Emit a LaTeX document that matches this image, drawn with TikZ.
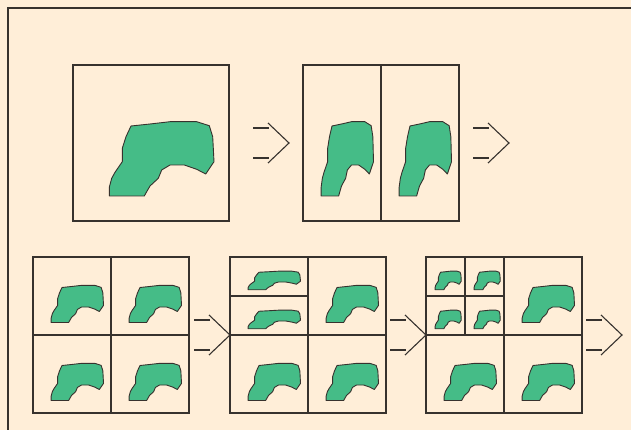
\documentclass[tikz,border=0pt]{standalone}
\usepackage{tikz}

\definecolor{paper}{RGB}{255,238,216}
\definecolor{leaf}{RGB}{69,188,135}
\definecolor{ink}{RGB}{55,50,46}

% one region, placed at a corner, moved and squeezed
\newcommand{\blobat}[5]{%
  \begin{scope}[shift={(#1)}, shift={(#2,#3)}, xscale=#4, yscale=#5]
    \filldraw[blob] (36.3,131) -- (36.3,122.3) -- (38.7,113.3) -- (42,107.3)
      -- (49.3,96.7) -- (49.3,83.3) -- (53,71.7) -- (58,61) -- (77,59)
      -- (97,56.7) -- (123.7,56.7) -- (136.3,60.7) -- (139.7,71.7)
      -- (141,96.7) -- (132.7,109) -- (123.7,104.3) -- (111.3,100)
      -- (97,100) -- (88.7,105) -- (85.3,113.3) -- (77,121) -- (73.7,126.7)
      -- (71.3,131) -- cycle;
  \end{scope}}

\begin{document}
\begin{tikzpicture}[x=1pt, y=-1pt, ink, line width=1.1pt,
        panel/.style = {draw, rectangle,
        minimum size = 156pt,
        inner sep=0pt, outer sep=0pt,
        anchor=north west},
        divider/.style = {line width=1.5pt},
        blob/.style = {fill=leaf, draw=ink, line width=0.9pt, line join=round},
        dblarrow/.pic = {
          \draw (-36,-15) -- (-20,-15) (-36,15) -- (-20,15);
          \draw (-21,-20) -- (0,0) -- (-21,20);}]

        % Paper and frame
        \fill[paper] (0,0) rectangle (631,430);
        \useasboundingbox (0,0) rectangle (631,430);
        \draw (8,430) -- (8,8) -- (631,8);

        % Whole region
        \node [panel] (whole) at (73,65) {};
        \blobat{whole.north west}{0}{0}{1}{1}

        % Split in two halves
        \node [panel] (halves) at (303,65) {};
        \draw (halves.north) -- (halves.south);
        \blobat{halves.north west}{0}{0}{0.5}{1}
        \blobat{halves.north}{0}{0}{0.5}{1}

        % Top arrows
        \pic at ([xshift=-14pt]halves.west) {dblarrow};
        \pic at ([xshift=50pt]halves.east) {dblarrow};

        % Four quarters
        \node [panel] (quads) at (33,257) {};
        \foreach \dx in {0,78}
          \foreach \dy in {0,78}
            {\blobat{quads.north west}{\dx}{\dy}{0.5}{0.5}}

        % One quarter split again in two
        \node [panel] (split) at (230,257) {};
        \draw[divider] ([yshift=-39pt]split.north west) -- ([yshift=-39pt]split.north);
        \blobat{split.north west}{0}{0}{0.5}{0.25}
        \blobat{split.north west}{0}{39}{0.5}{0.25}
        \blobat{split.north west}{78}{0}{0.5}{0.5}
        \blobat{split.north west}{0}{78}{0.5}{0.5}
        \blobat{split.north west}{78}{78}{0.5}{0.5}

        % One quarter split again in four
        \node [panel] (nested) at (426,257) {};
        \draw[divider] ([xshift=39pt]nested.north west) -- ([xshift=39pt,yshift=-78pt]nested.north west);
        \draw[divider] ([yshift=-39pt]nested.north west) -- ([xshift=78pt,yshift=-39pt]nested.north west);
        \foreach \dx in {0,39}
          \foreach \dy in {0,39}
            {\blobat{nested.north west}{\dx}{\dy}{0.25}{0.25}}
        \blobat{nested.north west}{78}{0}{0.5}{0.5}
        \blobat{nested.north west}{0}{78}{0.5}{0.5}
        \blobat{nested.north west}{78}{78}{0.5}{0.5}

        % Quarter lines
        \foreach \p in {quads,split,nested}
          \draw[divider] (\p.north) -- (\p.south) (\p.west) -- (\p.east);

        % Bottom arrows
        \pic at (split.west) {dblarrow};
        \pic at (nested.west) {dblarrow};
        \pic at ([xshift=40pt]nested.east) {dblarrow};

    \end{tikzpicture}
\end{document}
